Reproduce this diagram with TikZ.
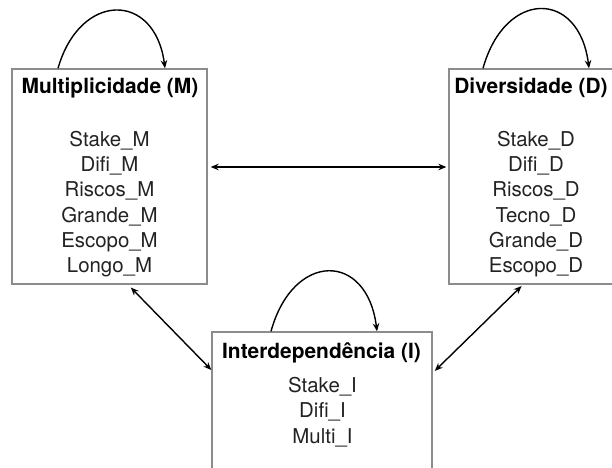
\documentclass[tikz,border=0pt]{standalone}
\usepackage{fontspec}
\setmainfont{TeX Gyre Heros}
\usetikzlibrary{arrows.meta}

\definecolor{boxgray}{HTML}{8C8C8C}
\definecolor{textgray}{HTML}{222222}

\tikzset{
  boxframe/.style={draw=boxgray, line width=1.3bp, rectangle, inner sep=0pt},
  boxtitle/.style={font=\fontsize{21}{25}\selectfont\bfseries, text=black, inner sep=0pt},
  boxlist/.style={font=\fontsize{20.5}{25.3}\selectfont, text=textgray, align=center, inner sep=0pt},
  link/.style={line width=1.4bp, {Stealth[length=8bp,width=6.5bp]}-{Stealth[length=8bp,width=6.5bp]}},
  selfloop/.style={line width=1.4bp, -{Stealth[length=8bp,width=6.5bp]}},
}

\begin{document}
\begin{tikzpicture}[x=1bp,y=-1bp]
  \useasboundingbox (0,0) rectangle (612,468);
  \clip (0,0) rectangle (612,468); % page cuts the D and I boxes

  % the three boxes
  \node[boxframe, minimum width=195bp, minimum height=215bp] (M) at (109.5,176.5) {};
  \node[boxframe, minimum width=173bp, minimum height=215bp] (D) at (535.5,176.5) {};
  \node[boxframe, minimum width=220bp, minimum height=160bp] (I) at (322,412) {};

  % titles
  \node[boxtitle] (Mtitle) at (110,88) {Multiplicidade (M)};
  \node[boxtitle] (Dtitle) at (531,88) {Diversidade (D)};
  \node[boxtitle] (Ititle) at (321.5,352.5) {Interdependência (I)};

  % variables
  \node[boxlist] (Mlist) at (109.5,204) {Stake\_M\\Difi\_M\\Riscos\_M\\Grande\_M\\Escopo\_M\\Longo\_M};
  \node[boxlist] (Dlist) at (536,204) {Stake\_D\\Difi\_D\\Riscos\_D\\Tecno\_D\\Grande\_D\\Escopo\_D};
  \node[boxlist] (Ilist) at (322.5,412) {Stake\_I\\Difi\_I\\Multi\_I};

  % self loops
  \draw[selfloop] ([xshift=-51.5bp]M.north) .. controls +(22,-77) and +(-10,-77) .. ([xshift=55.5bp]M.north);
  \draw[selfloop] ([xshift=-52.5bp]D.north) .. controls +(22,-79) and +(-10,-79) .. ([xshift=53.5bp]D.north);
  \draw[selfloop] ([xshift=-51bp]I.north) .. controls +(22,-80) and +(-10,-80) .. ([xshift=55bp]I.north);

  % links between the boxes
  \draw[link, shorten <=3bp, shorten >=2bp] ([yshift=9.5bp]M.east) -- ([yshift=9.5bp]D.west);
  \draw[link, shorten <=4bp] ([xshift=18.5bp]M.south) -- ([yshift=42bp]I.west);
  \draw[link, shorten <=2bp, shorten >=3bp] ([xshift=-12.5bp]D.south) -- ([yshift=39bp]I.east);
\end{tikzpicture}
\end{document}
